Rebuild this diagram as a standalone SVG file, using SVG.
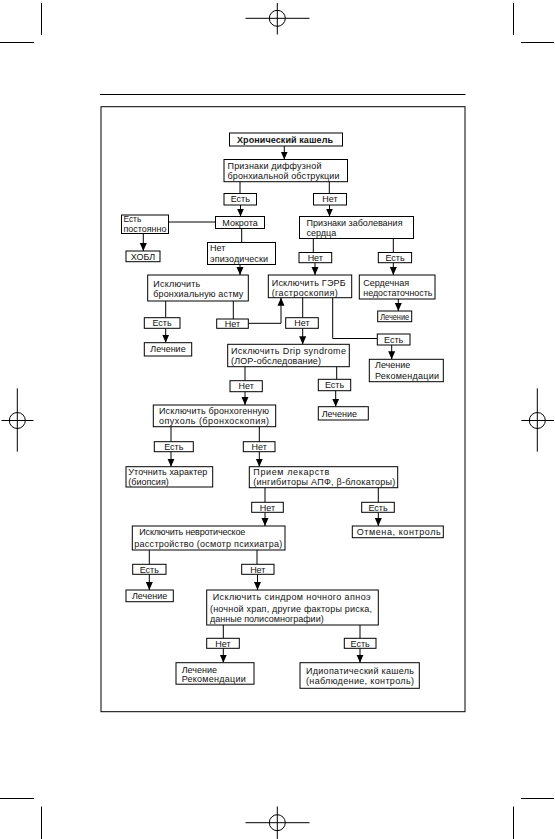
<svg xmlns="http://www.w3.org/2000/svg" width="555" height="839" viewBox="0 0 555 839">
<style>
.b{fill:#fff;stroke:#000;stroke-width:1}
.t{font-family:"Liberation Sans",Arial,sans-serif;font-size:9px;fill:#111}
.s{font-size:8.3px}
.c{text-anchor:middle}
.bold{font-weight:bold;font-size:9px}
.l{fill:none;stroke:#000;stroke-width:1}
.a{fill:none;stroke:#000;stroke-width:1;marker-end:url(#ah)}
.m{fill:none;stroke:#000;stroke-width:1}
</style>
<defs>
<marker id="ah" markerUnits="userSpaceOnUse" viewBox="0 0 8 8" refX="8" refY="4" markerWidth="8" markerHeight="8" orient="auto">
<path d="M0,0.5 L8,4 L0,7.5 z" fill="#000"/>
</marker>
</defs>
<rect width="555" height="839" fill="#fff"/>
<g id="printmarks" class="m">
<line x1="41.5" y1="3" x2="41.5" y2="35"/>
<line x1="0" y1="42.5" x2="34" y2="42.5"/>
<line x1="513.5" y1="3" x2="513.5" y2="35"/>
<line x1="521" y1="42.5" x2="554" y2="42.5"/>
<circle cx="277.3" cy="18.3" r="8"/>
<line x1="245.5" y1="18.3" x2="309.5" y2="18.3"/>
<line x1="277.3" y1="3" x2="277.3" y2="34.5"/>
<line x1="0" y1="798.5" x2="34" y2="798.5"/>
<line x1="41.5" y1="806.5" x2="41.5" y2="839"/>
<line x1="521" y1="798.5" x2="554" y2="798.5"/>
<line x1="513.5" y1="806.5" x2="513.5" y2="839"/>
<circle cx="277.3" cy="822.7" r="8"/>
<line x1="245.5" y1="822.7" x2="309.5" y2="822.7"/>
<line x1="277.3" y1="806.5" x2="277.3" y2="839"/>
<circle cx="17.3" cy="420.5" r="8"/>
<line x1="1.5" y1="420.5" x2="33.5" y2="420.5"/>
<line x1="17.3" y1="388.3" x2="17.3" y2="451.7"/>
<circle cx="537.3" cy="420.5" r="8"/>
<line x1="521.3" y1="420.5" x2="554" y2="420.5"/>
<line x1="537.3" y1="388.3" x2="537.3" y2="451.7"/>
</g>
<g id="frame" class="m">
<line x1="100" y1="94.5" x2="465.5" y2="94.5"/>
<rect x="101" y="106.7" width="364" height="605"/>
</g>
<g id="connectors">
<line class="a" x1="284.3" y1="146" x2="284.3" y2="159.5"/>
<line class="l" x1="240" y1="181.7" x2="240" y2="193.5"/>
<line class="a" x1="240.5" y1="205" x2="240.5" y2="216.5"/>
<line class="l" x1="329.3" y1="181.7" x2="329.3" y2="193.5"/>
<line class="a" x1="329.5" y1="205" x2="329.5" y2="216.5"/>
<line class="l" x1="215.5" y1="222" x2="168.5" y2="222"/>
<line class="a" x1="143.3" y1="233.5" x2="143.3" y2="251"/>
<line class="l" x1="241.7" y1="228.5" x2="241.7" y2="242.5"/>
<line class="a" x1="240" y1="264.5" x2="240" y2="275"/>
<line class="l" x1="313.3" y1="238.5" x2="313.3" y2="252.5"/>
<line class="a" x1="315" y1="262.7" x2="315" y2="275"/>
<line class="l" x1="393.3" y1="238.5" x2="393.3" y2="252.5"/>
<line class="a" x1="393.3" y1="262.7" x2="393.3" y2="275"/>
<line class="a" x1="398.3" y1="299" x2="398.3" y2="311"/>
<line class="l" x1="165.7" y1="301" x2="165.7" y2="317.7"/>
<line class="a" x1="165.7" y1="328.3" x2="165.7" y2="342.7"/>
<line class="l" x1="233.3" y1="301" x2="233.3" y2="319"/>
<polyline class="a" points="248.3,323.3 281,323.3 281,297.7"/>
<line class="l" x1="302.7" y1="297.7" x2="302.7" y2="317.7"/>
<line class="a" x1="302.7" y1="328.3" x2="302.7" y2="344.3"/>
<polyline class="l" points="332.7,297.7 332.7,338.5 377.3,338.5"/>
<line class="a" x1="391.7" y1="345" x2="391.7" y2="359.3"/>
<line class="l" x1="245" y1="366.7" x2="245" y2="380.7"/>
<line class="a" x1="245" y1="391.7" x2="245" y2="405"/>
<line class="l" x1="336.7" y1="366.7" x2="336.7" y2="379.3"/>
<line class="a" x1="335.7" y1="390.7" x2="335.7" y2="406.7"/>
<line class="l" x1="171" y1="426.7" x2="171" y2="441.7"/>
<line class="a" x1="171" y1="451.7" x2="171" y2="466.7"/>
<line class="l" x1="259.3" y1="426.7" x2="259.3" y2="441.7"/>
<line class="a" x1="259.3" y1="451.7" x2="259.3" y2="466.7"/>
<line class="l" x1="265" y1="487.7" x2="265" y2="502.3"/>
<line class="a" x1="265" y1="512.3" x2="265" y2="526"/>
<line class="l" x1="378.3" y1="487.7" x2="378.3" y2="502.3"/>
<line class="a" x1="378.3" y1="512.3" x2="378.3" y2="526"/>
<line class="l" x1="149.3" y1="550" x2="149.3" y2="564.3"/>
<line class="a" x1="149.3" y1="574.3" x2="149.3" y2="590"/>
<line class="l" x1="257" y1="550" x2="257" y2="564.3"/>
<line class="a" x1="257.5" y1="574.3" x2="257.5" y2="590"/>
<line class="l" x1="223.3" y1="625" x2="223.3" y2="638.3"/>
<line class="a" x1="223.3" y1="648.3" x2="223.3" y2="662.7"/>
<line class="l" x1="360" y1="625" x2="360" y2="638.3"/>
<line class="a" x1="360" y1="648.3" x2="360" y2="662.7"/>
</g>
<g id="n_title"><rect class="b" x="229.5" y="133" width="113" height="13"/><text class="t c bold" x="285" y="142.5" textLength="96" lengthAdjust="spacing">Хронический кашель</text></g>
<g id="n_obstr"><rect class="b" x="224" y="159.5" width="123.5" height="22.2"/><text class="t" x="227.5" y="168.5" textLength="94" lengthAdjust="spacing">Признаки диффузной</text><text class="t" x="227.5" y="178.5" textLength="112" lengthAdjust="spacing">бронхиальной обструкции</text></g>
<g id="n_yes1"><rect class="b" x="224" y="193.5" width="32.5" height="11.5"/><text class="t c" x="240.3" y="202.3">Есть</text></g>
<g id="n_no1"><rect class="b" x="313.5" y="193.5" width="33" height="11.5"/><text class="t c" x="330" y="202.3">Нет</text></g>
<g id="n_sputum"><rect class="b" x="215.5" y="216.5" width="49" height="12"/><text class="t c" x="240" y="225.6">Мокрота</text></g>
<g id="n_const"><rect class="b" x="121.5" y="215" width="47" height="18.5"/><text class="t s" x="123.5" y="222.3">Есть</text><text class="t s" x="123.5" y="231.5" textLength="43" lengthAdjust="spacingAndGlyphs">постоянно</text></g>
<g id="n_copd"><rect class="b" x="126" y="251" width="34" height="10.7"/><text class="t c" x="143" y="259.6">ХОБЛ</text></g>
<g id="n_epi"><rect class="b" x="207.5" y="242.5" width="68" height="22"/><text class="t" x="210" y="250.8">Нет</text><text class="t" x="210" y="261.5" textLength="58" lengthAdjust="spacing">эпизодически</text></g>
<g id="n_heart"><rect class="b" x="299.5" y="216.5" width="114" height="22"/><text class="t" x="306.5" y="225.5" textLength="96" lengthAdjust="spacing">Признаки заболевания</text><text class="t" x="306.5" y="235.5">сердца</text></g>
<g id="n_no2"><rect class="b" x="299" y="252.5" width="32.7" height="10.2"/><text class="t c" x="315.3" y="260.8">Нет</text></g>
<g id="n_yes2"><rect class="b" x="378.3" y="252.5" width="33.3" height="10.2"/><text class="t c" x="395" y="260.8">Есть</text></g>
<g id="n_asthma"><rect class="b" x="147.7" y="275" width="100.6" height="26"/><text class="t" x="153.3" y="286.5" textLength="47" lengthAdjust="spacing">Исключить</text><text class="t" x="153.3" y="297" textLength="90" lengthAdjust="spacing">бронхиальную астму</text></g>
<g id="n_gerd"><rect class="b" x="268.3" y="275" width="83.4" height="22.7"/><text class="t" x="271.7" y="285.5" textLength="74" lengthAdjust="spacing">Исключить ГЭРБ</text><text class="t" x="271.7" y="296" textLength="66" lengthAdjust="spacing">(гастроскопия)</text></g>
<g id="n_hf"><rect class="b" x="359.3" y="275" width="75.7" height="24"/><text class="t" x="363.3" y="285.5">Сердечная</text><text class="t" x="363.3" y="296" textLength="69" lengthAdjust="spacingAndGlyphs">недостаточность</text></g>
<g id="n_treat_hf"><rect class="b" x="377.7" y="311" width="34" height="10.7"/><text class="t s c" x="394.7" y="319.6" textLength="29" lengthAdjust="spacingAndGlyphs">Лечение</text></g>
<g id="n_yes3"><rect class="b" x="144.3" y="317.7" width="35.7" height="10.6"/><text class="t c" x="162" y="326.2">Есть</text></g>
<g id="n_no3"><rect class="b" x="216.7" y="319" width="31.6" height="9.3"/><text class="t c" x="232.5" y="327">Нет</text></g>
<g id="n_treat1"><rect class="b" x="144.3" y="342.7" width="47.4" height="13.3"/><text class="t c" x="168" y="352.3">Лечение</text></g>
<g id="n_no4"><rect class="b" x="285.7" y="317.7" width="32.6" height="10.6"/><text class="t c" x="302" y="326.2">Нет</text></g>
<g id="n_yes4"><rect class="b" x="377.3" y="334" width="32.7" height="11"/><text class="t c" x="393.7" y="342.6">Есть</text></g>
<g id="n_treat_rec1"><rect class="b" x="369.3" y="359.3" width="74" height="22.4"/><text class="t" x="375" y="368">Лечение</text><text class="t" x="375" y="378.5" textLength="64" lengthAdjust="spacing">Рекомендации</text></g>
<g id="n_drip"><rect class="b" x="227.7" y="344.3" width="121.6" height="22.4"/><text class="t" x="231" y="353.5" textLength="115" lengthAdjust="spacing">Исключить Drip syndrome</text><text class="t" x="231" y="363.5" textLength="90" lengthAdjust="spacing">(ЛОР-обследование)</text></g>
<g id="n_no5"><rect class="b" x="230" y="380.7" width="32.3" height="11"/><text class="t c" x="246.2" y="389.3">Нет</text></g>
<g id="n_yes5"><rect class="b" x="318.3" y="379.3" width="32.4" height="11.4"/><text class="t c" x="334.5" y="388.1">Есть</text></g>
<g id="n_treat2"><rect class="b" x="318.3" y="406.7" width="50" height="13.3"/><text class="t" x="321.7" y="416.8">Лечение</text></g>
<g id="n_tumor"><rect class="b" x="153.3" y="405" width="122.4" height="21.7"/><text class="t" x="159" y="414" textLength="110" lengthAdjust="spacing">Исключить бронхогенную</text><text class="t" x="159" y="424.3" textLength="110" lengthAdjust="spacing">опухоль (бронхоскопия)</text></g>
<g id="n_yes6"><rect class="b" x="154.3" y="441.7" width="39" height="10"/><text class="t c" x="173.8" y="449.9">Есть</text></g>
<g id="n_no6"><rect class="b" x="243.3" y="441.7" width="31.7" height="10"/><text class="t c" x="259.2" y="449.9">Нет</text></g>
<g id="n_biopsy"><rect class="b" x="126" y="466.7" width="86.7" height="20.3"/><text class="t" x="128.3" y="475" textLength="79" lengthAdjust="spacing">Уточнить характер</text><text class="t" x="128.3" y="484.5">(биопсия)</text></g>
<g id="n_drugs"><rect class="b" x="249.3" y="466.7" width="148.4" height="21"/><text class="t" x="253.3" y="475" textLength="76" lengthAdjust="spacing">Прием лекарств</text><text class="t" x="253.3" y="485" textLength="142" lengthAdjust="spacing">(ингибиторы АПФ, β-блокаторы)</text></g>
<g id="n_no7"><rect class="b" x="251.7" y="502.3" width="31.6" height="10"/><text class="t c" x="267.5" y="510.6">Нет</text></g>
<g id="n_yes7"><rect class="b" x="361.7" y="502.3" width="32.6" height="10"/><text class="t c" x="378" y="510.6">Есть</text></g>
<g id="n_cancel"><rect class="b" x="352.3" y="526" width="91" height="11.7"/><text class="t" x="356.7" y="535" textLength="84" lengthAdjust="spacing">Отмена, контроль</text></g>
<g id="n_neuro"><rect class="b" x="132.3" y="526" width="152.7" height="24"/><text class="t" x="139.3" y="534.5" textLength="106" lengthAdjust="spacing">Исключить невротическое</text><text class="t" x="134.3" y="546.5" textLength="148" lengthAdjust="spacing">расстройство (осмотр психиатра)</text></g>
<g id="n_yes8"><rect class="b" x="132.7" y="564.3" width="33.3" height="10"/><text class="t c" x="149.3" y="572.6">Есть</text></g>
<g id="n_no8"><rect class="b" x="241.7" y="564.3" width="32.3" height="10"/><text class="t c" x="257.8" y="572.6">Нет</text></g>
<g id="n_treat3"><rect class="b" x="126" y="590" width="47.3" height="11.7"/><text class="t c" x="149.6" y="599.2">Лечение</text></g>
<g id="n_apnea"><rect class="b" x="206.7" y="590" width="171.6" height="35"/><text class="t" x="212.7" y="600" textLength="158" lengthAdjust="spacing">Исключить синдром ночного апноэ</text><text class="t" x="210" y="611.5" textLength="162" lengthAdjust="spacing">(ночной храп, другие факторы риска,</text><text class="t" x="210" y="622">данные полисомнографии)</text></g>
<g id="n_no9"><rect class="b" x="206.7" y="638.3" width="32.6" height="10"/><text class="t c" x="223" y="646.6">Нет</text></g>
<g id="n_yes9"><rect class="b" x="344.3" y="638.3" width="31.7" height="10"/><text class="t c" x="360.2" y="646.6">Есть</text></g>
<g id="n_treat_rec2"><rect class="b" x="176" y="662.7" width="78" height="21.5"/><text class="t" x="181.7" y="672.5">Лечение</text><text class="t" x="181.7" y="682" textLength="64" lengthAdjust="spacing">Рекомендации</text></g>
<g id="n_idiop"><rect class="b" x="300" y="662.7" width="119.3" height="25.6"/><text class="t" x="306" y="674.3" textLength="108" lengthAdjust="spacing">Идиопатический кашель</text><text class="t" x="306" y="684.3" textLength="108" lengthAdjust="spacing">(наблюдение, контроль)</text></g>
</svg>
